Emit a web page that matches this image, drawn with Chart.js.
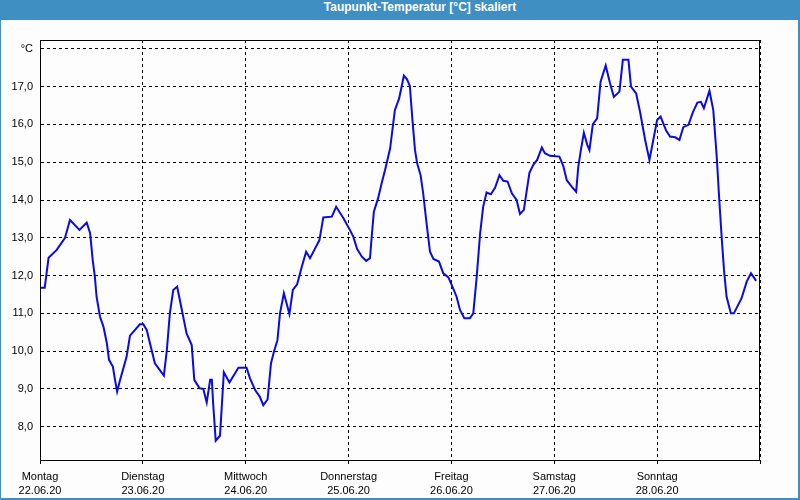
<!DOCTYPE html>
<html lang="de">
<head>
<meta charset="utf-8">
<title>Taupunkt-Temperatur</title>
<script src="https://cdn.jsdelivr.net/npm/chart.js@4/dist/chart.umd.min.js"></script>
<style>
  html, body { margin: 0; padding: 0; }
  body { width: 800px; height: 500px; position: relative; background: #fcfdfc; overflow: hidden; }
  #frame {
    position: absolute; left: 0; top: 0; width: 800px; height: 500px;
    box-sizing: border-box; border: 2px solid #3f8fc2; border-left-width: 1px;
    pointer-events: none; z-index: 2;
  }
  #titlebar {
    position: absolute; left: 0; top: 0; width: 800px; height: 20px;
    background: #3f8fc2; z-index: 3;
  }
  #titlebar span {
    position: absolute; left: 40px; right: 0; top: 0; line-height: 20px;
    text-align: center; color: #fff;
    font: bold 12px "Liberation Sans", Arial, sans-serif;
  }
  canvas { position: absolute; left: 0; top: 0; z-index: 1; }
</style>
</head>
<body>
<div id="titlebar"><span>Taupunkt-Temperatur [°C] skaliert</span></div>
<div id="frame"></div>
<canvas id="chart" width="800" height="500"></canvas>
<script>
// Stunden seit Montag 00:00 und Taupunkt in °C
const hours = [
  0, 1.1, 2.0, 3.9, 5.8, 7.0, 9.2, 10.9, 11.7, 12.3, 12.8, 13.2, 14.0, 14.8, 15.6, 16.1,
  17.0, 17.5, 18.0, 18.7, 20.2, 21.0, 23.3, 24.1, 24.9, 26.8, 28.9, 29.6, 30.3, 31.1, 32.0,
  33.1, 34.2, 35.4, 36.0, 37.2, 38.1, 38.9, 39.7, 40.1, 40.4, 41.0, 42.0, 42.9, 44.2, 46.3,
  48.2, 49.0, 50.2, 51.3, 52.1, 53.1, 53.9, 54.6, 55.4, 56.0, 56.9, 58.2, 59.0, 60.0, 61.1,
  62.1, 63.0, 64.2, 65.2, 66.1, 68.1, 69.1, 70.8, 72.3, 73.1, 74.0, 75.1, 76.1, 77.0, 77.4,
  77.9, 78.9, 79.7, 80.5, 81.7, 82.8, 83.8, 84.9, 85.6, 86.3, 86.9, 87.5, 88.0, 88.8, 89.4,
  90.2, 91.0, 91.8, 93.1, 94.1, 95.3, 96.4, 97.2, 98.0, 99.0, 100.3, 101.1, 101.9, 102.7,
  103.4, 104.2, 105.2, 106.2, 107.2, 108.1, 109.1, 110.1, 111.2, 112.0, 112.9, 113.6, 114.2,
  115.1, 116.0, 117.1, 117.8, 119.0, 121.2, 122.1, 122.9, 124.1, 125.1, 125.6, 126.2, 126.9,
  127.7, 128.2, 129.0, 130.0, 130.8, 132.0, 133.0, 133.9, 135.2, 136.0, 137.3, 137.9, 139.1,
  140.0, 141.2, 142.2, 143.1, 144.0, 144.8, 146.1, 147.0, 148.2, 149.2, 150.1, 151.3, 152.4,
  153.4, 154.2, 154.9, 156.2, 157.1, 157.9, 158.5, 159.1, 159.6, 160.2, 161.2, 161.9, 163.7,
  164.9, 165.9, 167.1
];
const dewPoint = [
  11.68, 11.68, 12.47, 12.68, 12.99, 13.47, 13.21, 13.40, 13.12, 12.41, 11.97, 11.44, 10.91, 10.65, 10.21, 9.77,
  9.59, 9.24, 8.93, 9.24, 9.85, 10.41, 10.71, 10.71, 10.56, 9.68, 9.35, 10.03, 11.00, 11.62, 11.71,
  11.09, 10.47, 10.16, 9.24, 9.02, 9.00, 8.64, 9.24, 9.24, 8.62, 7.63, 7.76, 9.44, 9.17, 9.56,
  9.56, 9.28, 8.97, 8.79, 8.57, 8.72, 9.68, 9.99, 10.29, 11.00, 11.53, 10.98, 11.62, 11.77, 12.24,
  12.63, 12.46, 12.72, 12.94, 13.54, 13.56, 13.82, 13.52, 13.21, 13.03, 12.70, 12.50, 12.39, 12.46, 13.03,
  13.69, 14.05, 14.44, 14.79, 15.37, 16.38, 16.69, 17.29, 17.20, 17.02, 16.12, 15.32, 14.97, 14.66, 14.18,
  13.38, 12.63, 12.44, 12.37, 12.06, 11.95, 11.66, 11.44, 11.09, 10.87, 10.87, 11.00, 11.97, 13.12,
  13.82, 14.20, 14.15, 14.33, 14.66, 14.51, 14.49, 14.18, 14.00, 13.63, 13.74, 14.27, 14.72,
  14.93, 15.06, 15.39, 15.24, 15.17, 15.15, 14.90, 14.53, 14.35, 14.22, 14.88, 15.32, 15.78,
  15.46, 15.32, 16.01, 16.16, 17.13, 17.56, 17.09, 16.73, 16.87, 17.71, 17.71, 17.00, 16.82,
  16.34, 15.59, 15.06, 15.59, 16.12, 16.21, 15.84, 15.68, 15.66, 15.59, 15.93, 15.99, 16.34,
  16.58, 16.60, 16.43, 16.89, 16.38, 15.15, 14.00, 12.94, 12.15, 11.44, 11.00, 11.00, 11.40,
  11.84, 12.06, 11.86
];

const dayNames = ['Montag', 'Dienstag', 'Mittwoch', 'Donnerstag', 'Freitag', 'Samstag', 'Sonntag'];
const dayDates = ['22.06.20', '23.06.20', '24.06.20', '25.06.20', '26.06.20', '27.06.20', '28.06.20'];
const xTickHours = [0, 24, 48, 72, 96, 120, 144, 168];
const yTickValues = [8, 9, 10, 11, 12, 13, 14, 15, 16, 17, 18];

const Y_MIN = 7.118;
const Y_MAX = 18.236;
const LABEL_FONT = { family: '"Liberation Sans", Arial, sans-serif', size: 11 };

// Rahmen um den Plotbereich (oben und rechts hat Chart.js keine Achse)
const plotFrame = {
  id: 'plotFrame',
  afterDraw(chart) {
    const a = chart.chartArea;
    const ctx = chart.ctx;
    ctx.save();
    ctx.strokeStyle = '#000';
    ctx.lineWidth = 1;
    ctx.setLineDash([]);
    ctx.strokeRect(Math.round(a.left) + 0.5, Math.round(a.top) + 0.5,
      Math.round(a.right - a.left) - 1, Math.round(a.bottom - a.top));
    ctx.restore();
  }
};

new Chart(document.getElementById('chart').getContext('2d'), {
  type: 'line',
  data: {
    datasets: [{
      label: 'Taupunkt',
      data: hours.map((h, i) => ({ x: h, y: dewPoint[i] })),
      borderColor: '#0a0ae6',
      borderWidth: 2,
      pointRadius: 0,
      tension: 0,
      fill: false,
    }]
  },
  options: {
    responsive: false,
    animation: false,
    layout: { padding: { top: 40, right: 40, bottom: 0, left: 0 } },
    plugins: {
      legend: { display: false },
      tooltip: { enabled: false },
      title: { display: false },
    },
    scales: {
      x: {
        type: 'linear',
        min: 0,
        max: 168,
        afterBuildTicks: (scale) => { scale.ticks = xTickHours.map(v => ({ value: v })); },
        afterFit: (scale) => { scale.height = 40; },
        grid: { color: '#000', lineWidth: 1, drawTicks: true, tickLength: 4 },
        border: { display: true, color: '#000', width: 1, dash: [3, 3] },
        ticks: {
          autoSkip: false,
          maxRotation: 0,
          padding: 5,
          color: '#000',
          font: { ...LABEL_FONT, lineHeight: 1.36 },
          callback: (value) => {
            const d = value / 24;
            return d < dayNames.length ? [dayNames[d], dayDates[d]] : '';
          }
        }
      },
      y: {
        type: 'linear',
        min: Y_MIN,
        max: Y_MAX,
        afterBuildTicks: (scale) => { scale.ticks = yTickValues.map(v => ({ value: v })); },
        afterFit: (scale) => { scale.width = 40; },
        grid: { color: '#000', lineWidth: 1, drawTicks: false },
        border: { display: true, color: '#000', width: 1, dash: [3, 3] },
        ticks: {
          autoSkip: false,
          padding: 7,
          color: '#000',
          font: LABEL_FONT,
          callback: (v) => v === 18 ? '°C' : v.toFixed(1).replace('.', ',')
        }
      }
    }
  },
  plugins: [plotFrame]
});
</script>
</body>
</html>
